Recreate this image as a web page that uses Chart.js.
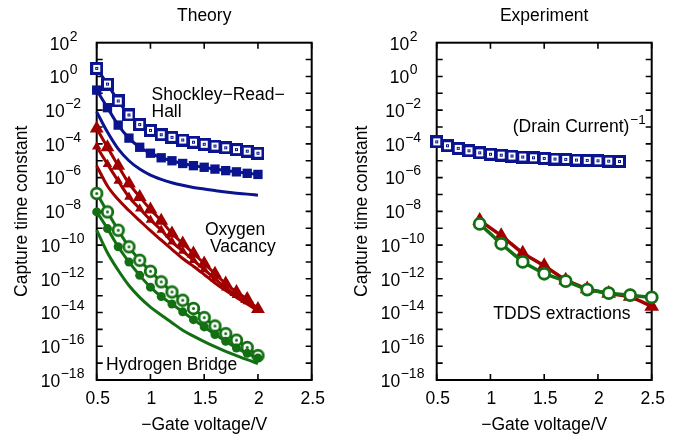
<!DOCTYPE html>
<html>
<head>
<meta charset="utf-8">
<script src="https://cdn.jsdelivr.net/npm/chart.js@4.4.1/dist/chart.umd.min.js"></script>
<style>
  html, body { margin: 0; padding: 0; background: #fff; }
  #wrap { position: relative; width: 686px; height: 438px; }
  #wrap canvas { position: absolute; left: 0; top: 0; }
</style>
</head>
<body>
<div id="wrap">
  <canvas id="cTheory" width="686" height="438"></canvas>
  <canvas id="cExp" width="686" height="438"></canvas>
</div>
<script>
// Capture time constants: theory (three defect models) vs experiment

// --- data ---
const theoryVoltage = [0.5, 0.6, 0.7, 0.8, 0.9, 1.0, 1.1, 1.2, 1.3, 1.4, 1.5, 1.6, 1.7, 1.8, 1.9, 2.0];

// Shockley-Read-Hall
const srhOpen   = [3.0e0, 3.5e-1, 3.5e-2, 5.2e-3, 1.4e-3, 6.3e-4, 3.5e-4, 2.45e-4, 1.7e-4, 1.26e-4, 9.5e-5, 7.4e-5, 5.9e-5, 4.6e-5, 3.7e-5, 2.8e-5];
const srhFilled = [1.55e-1, 1.4e-2, 1.3e-3, 2.2e-4, 6.3e-5, 2.8e-5, 1.5e-5, 1.0e-5, 6.9e-6, 5.1e-6, 4.1e-6, 3.2e-6, 2.6e-6, 2.2e-6, 1.8e-6, 1.55e-6];
const srhLine   = [7.9e-3, 5.0e-4, 5.0e-5, 1.0e-5, 3.2e-6, 1.4e-6, 7.9e-7, 5.0e-7, 3.5e-7, 2.6e-7, 2.1e-7, 1.7e-7, 1.4e-7, 1.2e-7, 1.05e-7, 9.1e-8];

// Oxygen vacancy
const ovBig   = [8.3e-4, 6.3e-5, 5.0e-6, 4.5e-7, 7.2e-8, 1.3e-8, 2.75e-9, 4.9e-10, 1.26e-10, 3.2e-11, 8.1e-12, 2.0e-12, 5.2e-13, 1.66e-13, 6.3e-14, 1.6e-14];
const ovSmall = [6.8e-5, 6.3e-6, 6.3e-7, 7.1e-8, 1.45e-8, 3.1e-9, 7.8e-10, 1.55e-10, 4.5e-11, 1.26e-11, 3.6e-12, 1.0e-12, 3.0e-13, 1.05e-13, 4.5e-14, 1.4e-14];
const ovLine  = [5.0e-6, 3.2e-7, 5.0e-8, 1.12e-8, 2.8e-9, 7.1e-10, 2.0e-10, 5.6e-11, 1.6e-11, 5.6e-12, 1.8e-12, 5.6e-13, 2.0e-13, 7.9e-14, 3.2e-14, 1.26e-14];

// Hydrogen bridge
const hbOpen   = [1.15e-7, 9.3e-9, 7.6e-10, 7.9e-11, 1.26e-11, 2.8e-12, 6.6e-13, 1.66e-13, 5.4e-14, 1.74e-14, 5.0e-15, 1.6e-15, 5.6e-16, 2.3e-16, 8.5e-17, 2.8e-17];
const hbFilled = [9.3e-9, 9.5e-10, 7.9e-11, 1.0e-11, 1.6e-12, 3.2e-13, 8.9e-14, 3.2e-14, 1.1e-14, 3.8e-15, 1.4e-15, 5.0e-16, 2.0e-16, 7.9e-17, 3.8e-17, 2.0e-17];
const hbLine   = [7.6e-10, 3.5e-11, 3.2e-12, 4.0e-13, 7.9e-14, 2.1e-14, 7.1e-15, 2.5e-15, 8.9e-16, 4.0e-16, 1.9e-16, 9.5e-17, 5.0e-17, 2.8e-17, 1.6e-17, 9.5e-18];

// Experiment
const drainVoltage = [0.5, 0.6, 0.7, 0.8, 0.9, 1.0, 1.1, 1.2, 1.3, 1.4, 1.5, 1.6, 1.7, 1.8, 1.9, 2.0, 2.1, 2.2];
const drainInv = [1.32e-4, 7.8e-5, 5.4e-5, 3.9e-5, 2.95e-5, 2.45e-5, 2.15e-5, 1.9e-5, 1.66e-5, 1.5e-5, 1.38e-5, 1.26e-5, 1.2e-5, 1.1e-5, 1.05e-5, 1.0e-5, 9.5e-6, 9.1e-6];

const tddsVoltage = [0.9, 1.1, 1.3, 1.5, 1.7, 1.9, 2.1, 2.3, 2.5];
const tddsOv = [2.9e-9, 3.6e-10, 3.3e-11, 6.0e-12, 8.3e-13, 2.45e-13, 1.35e-13, 8.9e-14, 2.3e-14];
const tddsHb = [1.8e-9, 1.2e-10, 1.0e-11, 2.0e-12, 7.2e-13, 2.3e-13, 1.4e-13, 1.07e-13, 7.9e-14];

// axes
const xTicks = [0.5, 1, 1.5, 2, 2.5];
const xTickLabels = ['0.5', '1', '1.5', '2', '2.5'];
const yLabelExps = [2, 0, -2, -4, -6, -8, -10, -12, -14, -16, -18];
const yMinExp = -18;
const yMaxExp = 2;

// --- styles ---
const BLUE = '#0a148f';
const RED = '#a00000';
const GREEN = '#127012';
const FONT = '"Liberation Sans", Arial, sans-serif';

function openSquare(color) {
  const c = document.createElement('canvas');
  c.width = 13; c.height = 13;
  const g = c.getContext('2d');
  g.fillStyle = color; g.fillRect(0, 0, 13, 13);
  g.fillStyle = '#fff'; g.fillRect(3, 3, 7, 7);
  g.fillStyle = color; g.fillRect(5, 5, 3, 3);
  g.fillStyle = '#fff'; g.fillRect(6, 6, 1, 1);
  return c;
}

function openCircle(color) {
  const c = document.createElement('canvas');
  c.width = 15; c.height = 15;
  const g = c.getContext('2d');
  g.beginPath(); g.arc(7.5, 7.5, 5.3, 0, Math.PI * 2);
  g.fillStyle = '#fff'; g.fill();
  g.lineWidth = 2.8; g.strokeStyle = color; g.stroke();
  g.beginPath(); g.arc(7.5, 7.5, 1.5, 0, Math.PI * 2);
  g.fillStyle = color; g.fill();
  return c;
}

function pts(xs, ys) {
  return xs.map((x, i) => ({ x, y: ys[i] }));
}

function series(xs, ys, color, extra) {
  return Object.assign({
    data: pts(xs, ys),
    borderColor: color,
    backgroundColor: color,
    borderWidth: 3,
    pointRadius: 0,
    pointBorderWidth: 0,
    cubicInterpolationMode: 'monotone',
    clip: false
  }, extra || {});
}

function supText(ctx, base, sup, x, y, size, supSize) {
  ctx.font = size + 'px ' + FONT;
  ctx.textAlign = 'left';
  ctx.textBaseline = 'middle';
  ctx.fillText(base, x, y + 2);
  const w = ctx.measureText(base).width;
  ctx.font = supSize + 'px ' + FONT;
  ctx.fillText(sup, x + w + 0.5, y - 6);
}

// frame, inward ticks, tick labels and texts, drawn from the chart's scales
function decoPlugin(cfg) {
  return {
    id: 'deco',
    beforeDatasetsDraw(chart) {
      const { ctx, chartArea: a, scales: { x, y } } = chart;
      ctx.save();
      ctx.strokeStyle = '#000';
      ctx.lineWidth = 1.6;
      ctx.beginPath();
      for (let e = yMinExp + 1; e < yMaxExp; e++) {
        const py = y.getPixelForValue(Math.pow(10, e));
        ctx.moveTo(a.left, py); ctx.lineTo(a.left + 6, py);
        ctx.moveTo(a.right, py); ctx.lineTo(a.right - 6, py);
      }
      for (const t of xTicks) {
        const px = x.getPixelForValue(t);
        ctx.moveTo(px, a.top); ctx.lineTo(px, a.top + 6);
        ctx.moveTo(px, a.bottom); ctx.lineTo(px, a.bottom - 6);
      }
      ctx.stroke();
      ctx.lineWidth = 2;
      ctx.strokeRect(a.left, a.top, a.right - a.left, a.bottom - a.top);
      ctx.restore();
    },
    afterDraw(chart) {
      const { ctx, chartArea: a, scales: { x, y } } = chart;
      ctx.save();
      ctx.fillStyle = '#000';
      // y tick labels
      for (const e of yLabelExps) {
        const py = y.getPixelForValue(Math.pow(10, e));
        const s = e < 0 ? '\u2212' + Math.abs(e) : String(e);
        supText(ctx, '10', s, a.left - 47 - (s.length - 1) * 4.5, py, 17.5, 14);
      }
      // x tick labels
      ctx.font = '17.5px ' + FONT;
      ctx.textAlign = 'center';
      ctx.textBaseline = 'middle';
      xTicks.forEach((t, i) => {
        ctx.fillText(xTickLabels[i], x.getPixelForValue(t) + 1, a.bottom + 19);
      });
      // titles
      const cx = (a.left + a.right) / 2;
      ctx.font = '17.5px ' + FONT;
      ctx.textBaseline = 'alphabetic';
      ctx.fillText(cfg.title, cx, 21);
      ctx.fillText('\u2212Gate voltage/V', cx, 430);
      ctx.save();
      ctx.translate(a.left - 70, (a.top + a.bottom) / 2);
      ctx.rotate(-Math.PI / 2);
      ctx.fillText('Capture time constant', 0, 0);
      ctx.restore();
      // annotations
      ctx.textAlign = 'left';
      ctx.font = '17.5px ' + FONT;
      for (const n of cfg.notes) {
        ctx.fillText(n.text, n.x, n.y);
        if (n.sup) {
          const w = ctx.measureText(n.text).width;
          ctx.font = '13.5px ' + FONT;
          ctx.fillText(n.sup, n.x + w + 1, n.y - 8);
          ctx.font = '17.5px ' + FONT;
        }
      }
      ctx.restore();
    }
  };
}

function makeChart(id, pad, datasets, deco) {
  return new Chart(document.getElementById(id), {
    type: 'line',
    data: { datasets },
    options: {
      responsive: false,
      animation: false,
      events: [],
      layout: { padding: pad },
      plugins: { legend: { display: false }, tooltip: { enabled: false } },
      scales: {
        x: { type: 'linear', min: 0.5, max: 2.5, display: false },
        y: { type: 'logarithmic', min: Math.pow(10, yMinExp), max: Math.pow(10, yMaxExp), display: false }
      }
    },
    plugins: [decoPlugin(deco)]
  });
}

const sqOpen = openSquare(BLUE);
const ciOpen = openCircle(GREEN);

makeChart('cTheory', { left: 96.7, right: 374.3, top: 42.7, bottom: 58 }, [
  series(theoryVoltage, srhLine, BLUE),
  series(theoryVoltage, srhFilled, BLUE, { pointStyle: 'rect', pointRadius: 6.6 }),
  series(theoryVoltage, srhOpen, BLUE, { pointStyle: sqOpen, pointRadius: 6 }),
  series(theoryVoltage, ovLine, RED),
  series(theoryVoltage, ovSmall, RED, { pointStyle: 'triangle', pointRadius: 5.5 }),
  series(theoryVoltage, ovBig, RED, { pointStyle: 'triangle', pointRadius: 8 }),
  series(theoryVoltage, hbLine, GREEN),
  series(theoryVoltage, hbFilled, GREEN, { pointStyle: 'circle', pointRadius: 4.5 }),
  series(theoryVoltage, hbOpen, GREEN, { pointStyle: ciOpen, pointRadius: 6 })
], {
  title: 'Theory',
  notes: [
    { text: 'Shockley\u2212Read\u2212', x: 151.5, y: 100 },
    { text: 'Hall', x: 151.5, y: 117 },
    { text: 'Oxygen', x: 205, y: 235 },
    { text: 'Vacancy', x: 210, y: 252 },
    { text: 'Hydrogen Bridge', x: 106, y: 370 }
  ]
});

makeChart('cExp', { left: 436.7, right: 34.3, top: 42.7, bottom: 58 }, [
  series(drainVoltage, drainInv, BLUE, { pointStyle: sqOpen, pointRadius: 6, cubicInterpolationMode: 'default', tension: 0 }),
  series(tddsVoltage, tddsHb, GREEN, { pointStyle: 'circle', pointRadius: 5.5, pointBorderWidth: 2.8, pointBackgroundColor: '#fff', borderWidth: 3.5, cubicInterpolationMode: 'default', tension: 0 }),
  series(tddsVoltage, tddsOv, RED, { pointStyle: 'triangle', pointRadius: 8.5, borderWidth: 3.5, cubicInterpolationMode: 'default', tension: 0 })
], {
  title: 'Experiment',
  notes: [
    { text: '(Drain Current)', x: 512.7, y: 132, sup: '\u22121' },
    { text: 'TDDS extractions', x: 493.3, y: 319 }
  ]
});
</script>
</body>
</html>
